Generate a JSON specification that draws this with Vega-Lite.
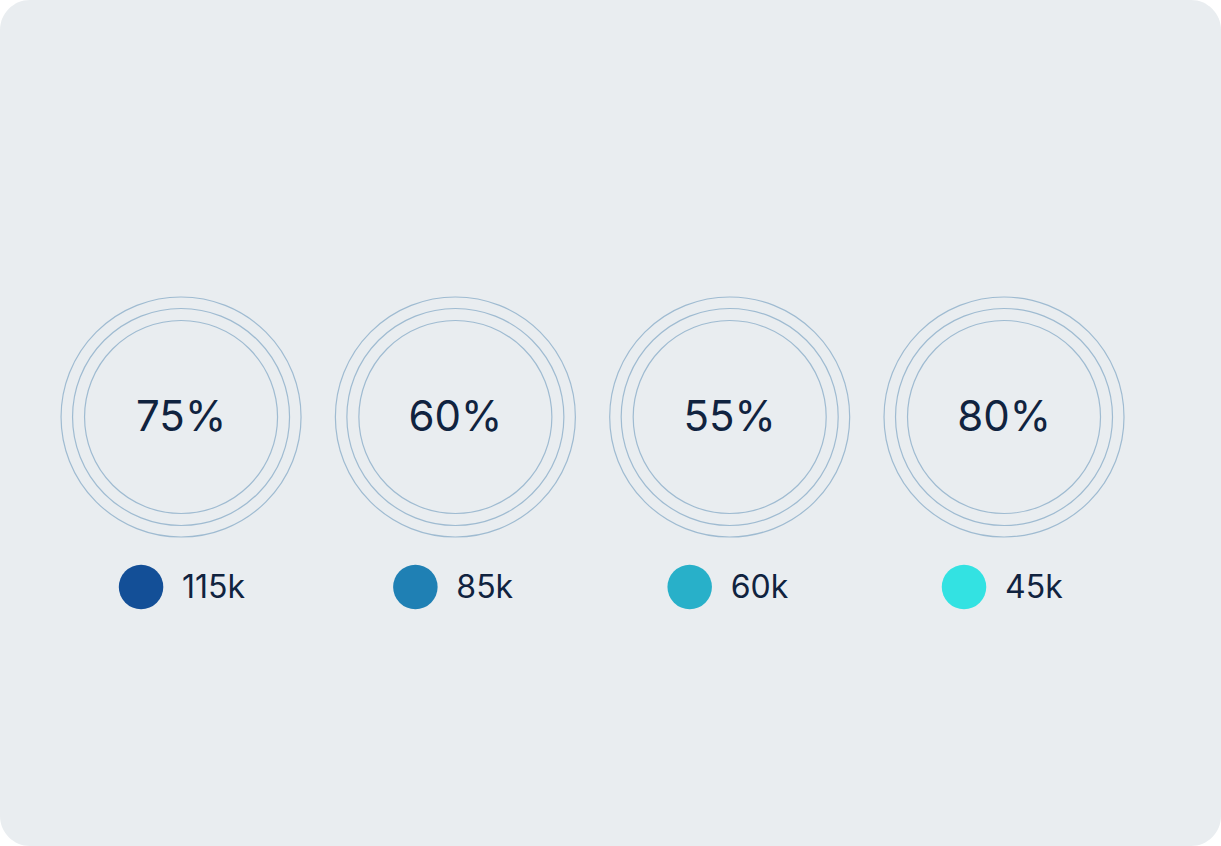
{
  "$schema": "https://vega.github.io/schema/vega-lite/v6.json",
  "autosize": {"type": "fit", "contains": "padding"},
  "width": 1221,
  "height": 846,
  "padding": 0,
  "background": "#ffffff",
  "config": {
    "view": {"fill": "#e9edf0", "stroke": null, "cornerRadius": 30},
    "axis": {"disable": true}
  },
  "data": {
    "values": [
      {"i": 0, "name": "A", "pct": "75%", "val": "115k", "ring": 1, "row": 0},
      {"i": 1, "name": "B", "pct": "60%", "val": "85k", "ring": 1, "row": 0},
      {"i": 2, "name": "C", "pct": "55%", "val": "60k", "ring": 1, "row": 0},
      {"i": 3, "name": "D", "pct": "80%", "val": "45k", "ring": 1, "row": 0}
    ]
  },
  "encoding": {
    "x": {"field": "i", "type": "quantitative", "scale": {"domain": [-0.66, 3.791], "nice": false, "zero": false}, "axis": null}
  },
  "layer": [
    {
      "mark": {"type": "point", "shape": "circle", "size": 57600, "filled": false, "stroke": "#9fbbd1", "strokeWidth": 1.2, "opacity": 1},
      "encoding": {"y": {"field": "ring", "type": "quantitative", "scale": {"domain": [-1.5235, 3.4529], "nice": false, "zero": false}, "axis": null}}
    },
    {
      "mark": {"type": "point", "shape": "circle", "size": 47089, "filled": false, "stroke": "#9fbbd1", "strokeWidth": 1.2, "opacity": 1},
      "encoding": {"y": {"field": "ring", "type": "quantitative", "axis": null}}
    },
    {
      "mark": {"type": "point", "shape": "circle", "size": 37249, "filled": false, "stroke": "#9fbbd1", "strokeWidth": 1.2, "opacity": 1},
      "encoding": {"y": {"field": "ring", "type": "quantitative", "axis": null}}
    },
    {
      "mark": {"type": "text", "font": "Inter", "fontSize": 42, "fontWeight": 400, "color": "#10233f", "baseline": "middle", "align": "center", "dy": 1},
      "encoding": {"y": {"field": "ring", "type": "quantitative", "axis": null}, "text": {"field": "pct"}}
    },
    {
      "mark": {"type": "point", "shape": "circle", "size": 1980, "filled": true, "opacity": 1, "xOffset": -40},
      "encoding": {
        "y": {"field": "row", "type": "quantitative", "axis": null},
        "color": {"field": "name", "type": "nominal", "scale": {"domain": ["A", "B", "C", "D"], "range": ["#134f97", "#1f80b4", "#28b0c9", "#33e2e2"]}, "legend": null}
      }
    },
    {
      "mark": {"type": "text", "font": "Inter", "fontSize": 32, "fontWeight": 400, "color": "#10233f", "baseline": "middle", "align": "left", "dx": 1, "dy": 1},
      "encoding": {"y": {"field": "row", "type": "quantitative", "axis": null}, "text": {"field": "val"}}
    }
  ]
}
